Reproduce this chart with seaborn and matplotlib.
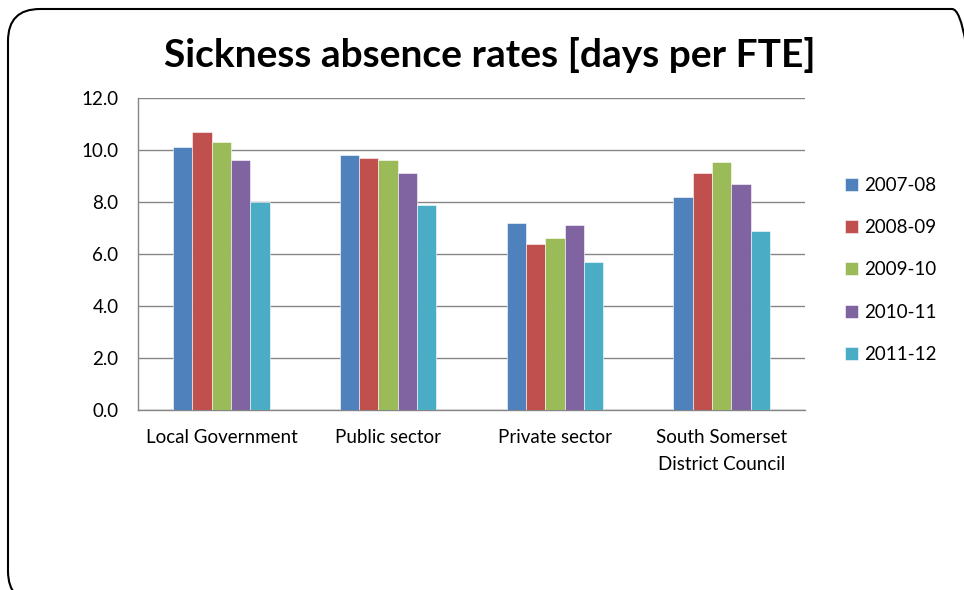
import matplotlib
matplotlib.use("Agg")
import matplotlib.pyplot as plt
from matplotlib.patches import FancyBboxPatch
import seaborn as sns
import pandas as pd
import numpy as np

categories = ["Local Government", "Public sector", "Private sector", "South Somerset\nDistrict Council"]
years = ["2007-08", "2008-09", "2009-10", "2010-11", "2011-12"]
v2007_08 = [10.1, 9.8, 7.2, 8.2]
v2008_09 = [10.7, 9.7, 6.4, 9.1]
v2009_10 = [10.3, 9.6, 6.6, 9.55]
v2010_11 = [9.6, 9.1, 7.1, 8.7]
v2011_12 = [8.0, 7.9, 5.7, 6.9]
series = [v2007_08, v2008_09, v2009_10, v2010_11, v2011_12]
colors = ["#4F81BD", "#C0504D", "#9BBB59", "#8064A2", "#4BACC6"]
yticks = [0, 2, 4, 6, 8, 10, 12]

rows = []
for y, vals in zip(years, series):
    for c, v in zip(categories, vals):
        rows.append({"cat": c, "year": y, "val": v})
df = pd.DataFrame(rows)

sns.set_style("white")
plt.rcParams["font.family"] = ["Lato", "DejaVu Sans"]
plt.rcParams["text.color"] = "black"
plt.rcParams["xtick.color"] = "black"
plt.rcParams["ytick.color"] = "black"

W, H = 964, 590
fig = plt.figure(figsize=(W / 100, H / 100), dpi=100)

# background frame (extends past right and bottom edges); pixel coords, y up
bg = fig.add_axes([0, 0, 1, 1], zorder=-1)
bg.set_xlim(0, W)
bg.set_ylim(0, H)
bg.axis("off")
bg.add_patch(FancyBboxPatch((8, -13), 976, H - 9 + 13, boxstyle="round,pad=0,rounding_size=32",
                            fill=False, edgecolor="black", linewidth=1.5))

ax = fig.add_axes([138 / W, 1 - 410 / H, (805 - 138) / W, (410 - 98) / H])
ax.set_facecolor("none")
sns.barplot(data=df, x="cat", y="val", hue="year", palette=colors, width=0.58,
            saturation=1, ax=ax, edgecolor="white", linewidth=0.4, zorder=3)

ax.set_ylim(0, 12)
ax.set_xlim(-0.5, 3.5)
ax.set_yticks(yticks)
ax.set_yticklabels([f"{t:.1f}" for t in yticks], fontsize=13.5)
ax.yaxis.grid(True, color="#868686", linewidth=1.0, zorder=0)
ax.set_axisbelow(True)
for s in ["top", "right"]:
    ax.spines[s].set_visible(False)
for s in ["left", "bottom"]:
    ax.spines[s].set_color("#868686")
    ax.spines[s].set_linewidth(1.0)
ax.tick_params(axis="y", which="major", length=5, color="#868686", direction="out", pad=9)
ax.tick_params(axis="x", which="major", length=0, pad=14, labelsize=13.5)
ax.set_xticks(np.arange(-0.5, 4.0, 1.0), minor=True)
ax.tick_params(axis="x", which="minor", length=5, color="#868686", direction="out")
ax.set_xlabel("")
ax.set_ylabel("")
for lbl in ax.get_xticklabels():
    lbl.set_linespacing(1.7)

handles, labels = ax.get_legend_handles_labels()
ax.legend(handles, labels, loc="upper left", bbox_to_anchor=(828 / W, 1 - 160 / H),
          bbox_transform=fig.transFigure, frameon=False, fontsize=13.5,
          handlelength=0.7, handleheight=0.7, handletextpad=0.35, labelspacing=1.35)

fig.text(490 / W, 1 - 55 / H, "Sickness absence rates [days per FTE]", ha="center", va="center",
         fontsize=28, fontweight="bold", color="black")

fig.savefig("out.png", dpi=100)
